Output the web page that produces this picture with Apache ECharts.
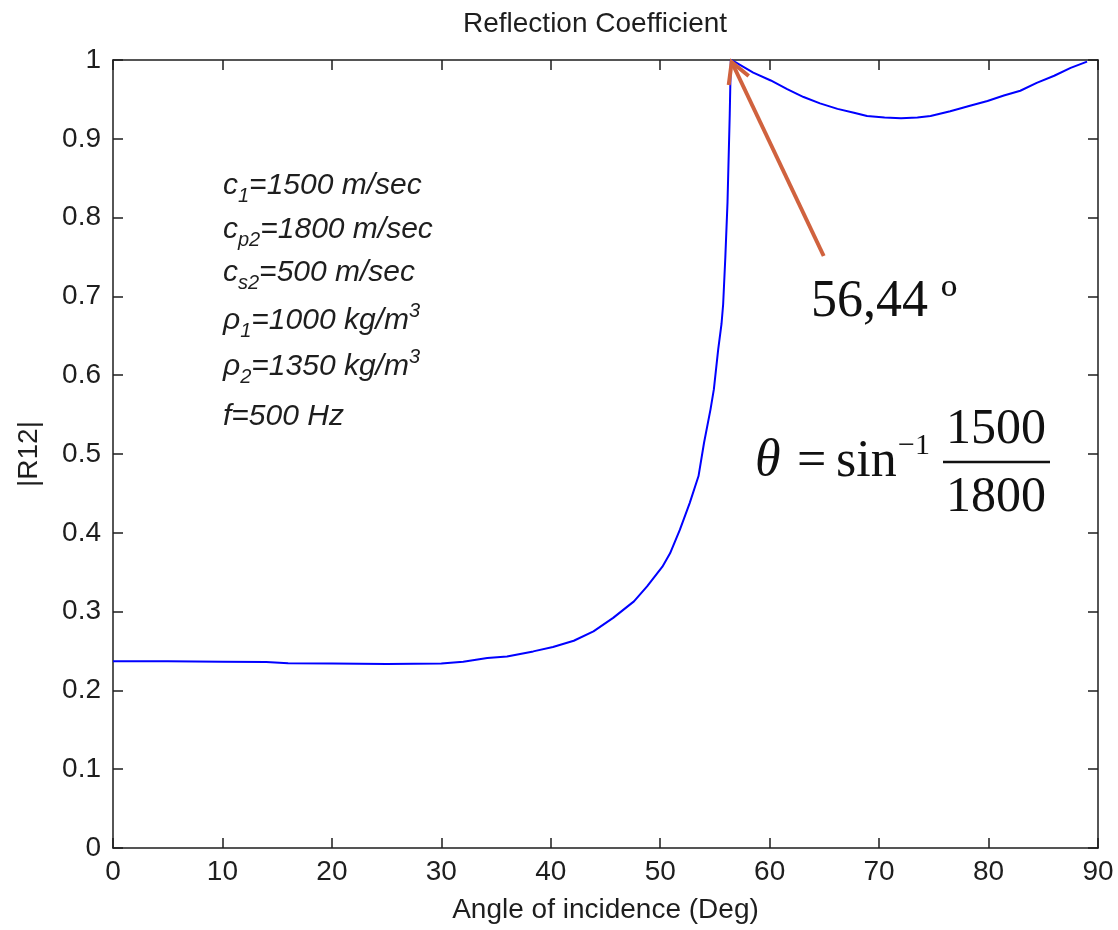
<!DOCTYPE html>
<html>
<head>
<meta charset="utf-8">
<script src="https://cdn.jsdelivr.net/npm/echarts@6/dist/echarts.min.js"></script>
<style>
  html, body { margin: 0; padding: 0; background: #fff; }
  #chart { width: 1118px; height: 930px; }
</style>
</head>
<body>
<div id="chart"></div>
<script>
// angle of incidence (deg) and |R12|
const angleDeg = [0, 5, 10, 14, 16, 20, 25, 30, 32,
  34.2, 36.0, 38.4, 40.2, 42.1, 43.9, 45.7, 47.6, 48.8,
  50.2, 50.9, 51.8, 52.7, 53.5, 54.0, 54.6, 54.9, 55.3, 55.6,
  55.75, 55.95, 56.15, 56.35, 56.45,
  56.9, 58.5, 60.1, 61.6, 63.1, 64.6, 66.2, 67.7, 68.9,
  70.5, 72.0, 73.5, 74.7, 76.5, 78.3, 79.9, 81.4, 82.9,
  84.4, 86.0, 87.5, 89.0];
const reflMag = [0.237, 0.237, 0.2365, 0.236, 0.2345, 0.234, 0.2335, 0.234, 0.2365,
  0.241, 0.243, 0.2495, 0.255, 0.263, 0.275, 0.292, 0.313, 0.332,
  0.357, 0.374, 0.404, 0.438, 0.472, 0.514, 0.557, 0.582, 0.633, 0.665,
  0.69, 0.75, 0.82, 0.93, 1.0,
  0.997, 0.984, 0.974, 0.963, 0.953, 0.945, 0.938, 0.933, 0.929,
  0.927, 0.926, 0.927, 0.929, 0.935, 0.942, 0.948, 0.955, 0.961,
  0.971, 0.980, 0.990, 0.998];

// critical angle the arrow points at
const criticalAngle = 56.44;
const criticalValue = 1;

// text of the parameter block (rich text)
const paramLines = [
  '{n|c}{sub|1}{n|=1500 m/sec}',
  '{n|c}{sub|p2}{n|=1800 m/sec}',
  '{n|c}{sub|s2}{n|=500 m/sec}',
  '{n|ρ}{sub|1}{n|=1000 kg/m}{sup|3}',
  '{n|ρ}{sub|2}{n|=1350 kg/m}{sup|3}',
  '{n|f=500 Hz}'
];
const paramLineY = [186, 230, 273, 321, 367, 417];

const sansFont = '"Liberation Sans", Arial, sans-serif';
const serifFont = '"Liberation Serif", "Times New Roman", serif';
const ink = '#1e1e1e';
const arrowColor = '#d0623e';

const chart = echarts.init(document.getElementById('chart'));

const axisLine = { show: true, onZero: false, lineStyle: { color: ink, width: 1.5 } };
const axisTick = { show: true, inside: true, length: 10, lineStyle: { color: ink, width: 1.5 } };
const tickFont = { fontSize: 28, color: ink, fontFamily: sansFont };

const option = {
  animation: false,
  backgroundColor: '#fff',
  title: {
    text: 'Reflection Coefficient',
    left: 463,
    top: 10,
    padding: 0,
    textStyle: { fontSize: 28, fontWeight: 'normal', color: ink, fontFamily: sansFont }
  },
  grid: { left: 113, right: 20, top: 60, bottom: 82 },
  xAxis: [
    {
      type: 'value', position: 'bottom', min: 0, max: 90, interval: 10,
      axisLine, axisTick, splitLine: { show: false },
      axisLabel: Object.assign({ margin: 10 }, tickFont),
      name: 'Angle of incidence (Deg)', nameLocation: 'middle', nameGap: 48,
      nameTextStyle: { fontSize: 28, color: ink, fontFamily: sansFont }
    },
    {
      type: 'value', position: 'top', min: 0, max: 90, interval: 10,
      axisLine, axisTick, splitLine: { show: false }, axisLabel: { show: false }
    }
  ],
  yAxis: [
    {
      type: 'value', position: 'left', min: 0, max: 1, interval: 0.1,
      axisLine, axisTick, splitLine: { show: false },
      axisLabel: Object.assign({ margin: 12 }, tickFont),
      name: '|R12|', nameLocation: 'middle', nameGap: 70,
      nameTextStyle: { fontSize: 28, color: ink, fontFamily: sansFont }
    },
    {
      type: 'value', position: 'right', min: 0, max: 1, interval: 0.1,
      axisLine, axisTick, splitLine: { show: false }, axisLabel: { show: false }
    }
  ],
  series: [
    {
      type: 'line',
      xAxisIndex: 0,
      yAxisIndex: 0,
      data: angleDeg.map((a, i) => [a, reflMag[i]]),
      showSymbol: false,
      clip: false,
      lineStyle: { color: '#0000ff', width: 2 }
    }
  ]
};
chart.setOption(option);

// annotations
const paramRich = {
  n: { fontSize: 30, fontStyle: 'italic', fontFamily: sansFont, lineHeight: 40, fill: ink },
  sub: { fontSize: 20, fontStyle: 'italic', fontFamily: sansFont, lineHeight: 16, verticalAlign: 'bottom', fill: ink },
  sup: { fontSize: 20, fontStyle: 'italic', fontFamily: sansFont, lineHeight: 26, verticalAlign: 'top', fill: ink }
};

const graphics = paramLines.map((t, i) => ({
  type: 'text',
  x: 223,
  y: paramLineY[i],
  style: { text: t, rich: paramRich, verticalAlign: 'middle', align: 'left' }
}));

const serifText = (text, x, y, size, extra) => ({
  type: 'text', x, y, z: 50,
  style: Object.assign({
    text, fill: '#111', fontSize: size, fontFamily: serifFont,
    verticalAlign: 'middle', align: 'left'
  }, extra || {})
});

graphics.push(
  serifText('56,44 º', 811, 302, 52),
  serifText('θ', 755, 461, 52, { fontStyle: 'italic' }),
  serifText('=', 797, 462, 52),
  serifText('sin', 836, 462, 52),
  serifText('−1', 898, 446, 30),
  serifText('1500', 996, 430, 50, { align: 'center' }),
  serifText('1800', 996, 498, 50, { align: 'center' }),
  {
    type: 'line', z: 50,
    shape: { x1: 943, y1: 462, x2: 1050, y2: 462 },
    style: { stroke: '#111', lineWidth: 2.5 }
  }
);

const tip = chart.convertToPixel({ xAxisIndex: 0, yAxisIndex: 0 }, [criticalAngle, criticalValue]);
graphics.push(
  {
    type: 'polyline', z: 60,
    shape: { points: [[tip[0] + 93, tip[1] + 196], [tip[0] + 1, tip[1] + 2]] },
    style: { stroke: arrowColor, lineWidth: 4, fill: null }
  },
  {
    type: 'polyline', z: 60,
    shape: { points: [[tip[0] - 2, tip[1] + 25], [tip[0] + 1, tip[1] + 2], [tip[0] + 18, tip[1] + 16]] },
    style: { stroke: arrowColor, lineWidth: 4, fill: null, lineJoin: 'miter' }
  }
);

chart.setOption({ graphic: graphics });
</script>
</body>
</html>
